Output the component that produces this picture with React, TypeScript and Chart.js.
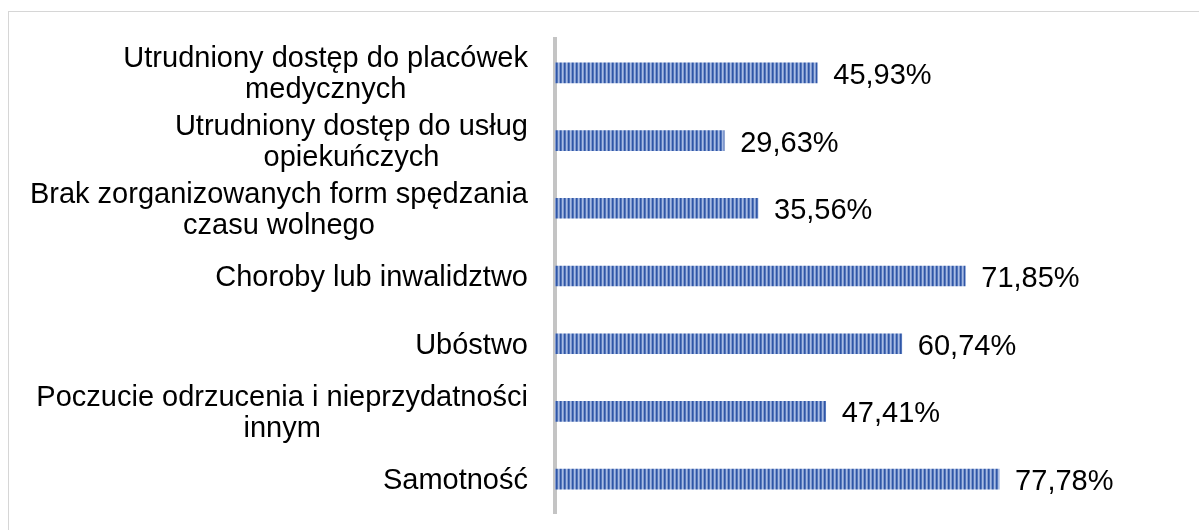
import React, { useEffect, useRef } from "react";
import { Chart, registerables } from "chart.js";

Chart.register(...registerables);

const categories: string[][] = [
  ["Utrudniony dostęp do placówek", "medycznych"],
  ["Utrudniony dostęp do usług", "opiekuńczych"],
  ["Brak zorganizowanych form spędzania", "czasu wolnego"],
  ["Choroby lub inwalidztwo"],
  ["Ubóstwo"],
  ["Poczucie odrzucenia i nieprzydatności", "innym"],
  ["Samotność"],
];
const values: number[] = [45.93, 29.63, 35.56, 71.85, 60.74, 47.41, 77.78];
const valueLabels: string[] = ["45,93%", "29,63%", "35,56%", "71,85%", "60,74%", "47,41%", "77,78%"];

const FONT = "29px Arial, 'Liberation Sans', sans-serif";

function makePattern(): CanvasPattern | string {
  const c = document.createElement("canvas");
  c.width = 4;
  c.height = 20;
  const g = c.getContext("2d");
  if (!g) return "#4a6cb3";
  const cols = ["#2f56a6", "#5577bb", "#a9bde3", "#8199d0"];
  cols.forEach((col, i) => {
    g.fillStyle = col;
    g.fillRect(i, 0, 1, 20);
  });
  const ctx = document.createElement("canvas").getContext("2d");
  return ctx ? (ctx.createPattern(c, "repeat") as CanvasPattern) : "#4a6cb3";
}

const labelPlugin = {
  id: "customLabels",
  afterDraw(chart: any) {
    const ctx = chart.ctx;
    const yScale = chart.scales.y;
    ctx.save();
    ctx.font = FONT;
    ctx.fillStyle = "#000000";
    ctx.textBaseline = "middle";
    ctx.textAlign = "center";
    const rightEdge = chart.chartArea.left - 27;
    const lineH = 31;
    categories.forEach((lines, i) => {
      const cy = yScale.getPixelForValue(i) + 2;
      const maxW = Math.max(...lines.map((l) => ctx.measureText(l).width));
      const cx = rightEdge - maxW / 2;
      const startY = cy - ((lines.length - 1) * lineH) / 2;
      lines.forEach((l, j) => ctx.fillText(l, cx, startY + j * lineH));
    });
    const meta = chart.getDatasetMeta(0);
    ctx.textAlign = "left";
    meta.data.forEach((bar: any, i: number) => {
      ctx.fillText(valueLabels[i], bar.x + 16, bar.y + 3);
    });
    ctx.restore();
  },
};

export default function App() {
  const ref = useRef<HTMLCanvasElement | null>(null);
  useEffect(() => {
    if (!ref.current) return;
    const pattern = makePattern();
    const chart = new Chart(ref.current, {
      type: "bar",
      data: {
        labels: categories.map((c) => c.join(" ")),
        datasets: [
          {
            data: values,
            backgroundColor: pattern as any,
            borderWidth: 0,
            barThickness: 20,
          },
        ],
      },
      options: {
        indexAxis: "y",
        animation: false,
        responsive: false,
        maintainAspectRatio: false,
        layout: { padding: { left: 0, right: 73, top: 39, bottom: 17 } },
        plugins: {
          legend: { display: false },
          tooltip: { enabled: false },
        },
        scales: {
          x: {
            display: false,
            min: 0,
            max: 100,
          },
          y: {
            ticks: { display: false },
            grid: { display: false, drawTicks: false },
            border: { display: true, color: "#c4c4c4", width: 4 },
            afterFit: (s: any) => {
              s.width = 555;
            },
          },
        },
      },
      plugins: [labelPlugin],
    });
    return () => chart.destroy();
  }, []);

  return (
    <div
      style={{
        position: "fixed",
        left: 0,
        top: 0,
        width: 1199,
        height: 530,
        overflow: "hidden",
        background: "#ffffff",
      }}
    >
      <div
        style={{
          position: "absolute",
          left: 8,
          top: 11,
          width: 1300,
          height: 700,
          border: "1.5px solid #d6d6d6",
          boxSizing: "border-box",
        }}
      />
      <canvas
        ref={ref}
        width={1199}
        height={530}
        style={{ position: "absolute", left: 0, top: 0, width: 1199, height: 530 }}
      />
    </div>
  );
}
